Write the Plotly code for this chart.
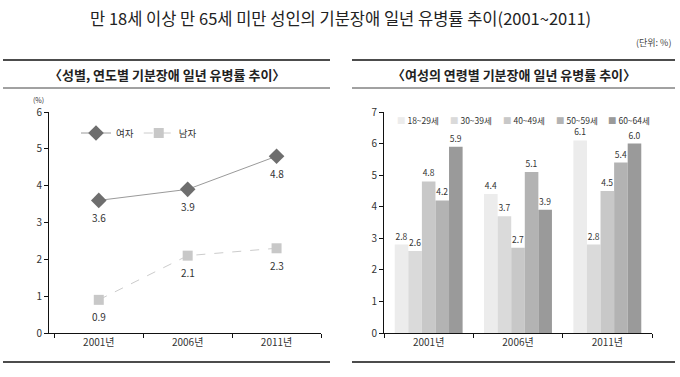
import plotly.graph_objects as go

W, H = 680, 377
FONT = "Noto Sans CJK KR"

title = "만 18세 이상 만 65세 미만 성인의 기분장애 일년 유병률 추이(2001~2011)"
unit_note = "(단위: %)"
left_title = "〈성별, 연도별 기분장애 일년 유병률 추이〉"
right_title = "〈여성의 연령별 기분장애 일년 유병률 추이〉"

years = ["2001년", "2006년", "2011년"]

# Left chart: by sex
female = [3.6, 3.9, 4.8]
male = [0.9, 2.1, 2.3]

# Right chart: women by age group
age_groups = ["18~29세", "30~39세", "40~49세", "50~59세", "60~64세"]
age_values = [
    [2.8, 4.4, 6.1],
    [2.6, 3.7, 2.8],
    [4.8, 2.7, 4.5],
    [4.2, 5.1, 5.4],
    [5.9, 3.9, 6.0],
]
age_colors = ["#ececec", "#dadada", "#c8c8c8", "#b3b3b3", "#9a9a9a"]
legend_x_px = [395, 448, 501, 554, 606]


def px_x(p):
    return p / W


def px_y(p):
    return 1 - p / H


fig = go.Figure()

fig.add_trace(go.Scatter(
    x=years, y=female, name="여자", mode="lines+markers",
    line=dict(color="#9a9a9a", width=1),
    marker=dict(symbol="diamond", size=12, color="#6e6e6e"),
    xaxis="x", yaxis="y", cliponaxis=False,
))
fig.add_trace(go.Scatter(
    x=years, y=male, name="남자", mode="lines+markers",
    line=dict(color="#cccccc", width=1, dash="dash"),
    marker=dict(symbol="square", size=10, color="#c8c8c8"),
    xaxis="x", yaxis="y", cliponaxis=False,
))

for name, vals, col in zip(age_groups, age_values, age_colors):
    fig.add_trace(go.Bar(
        x=years, y=vals, name=name, marker=dict(color=col, line=dict(width=0)),
        text=[f"{v:.1f}" for v in vals], textposition="outside",
        textfont=dict(size=8.5, color="#333333", family=FONT),
        xaxis="x2", yaxis="y2", showlegend=False, cliponaxis=False,
    ))

annotations = []
for series in (female, male):
    for yr, v in zip(years, series):
        annotations.append(dict(
            x=yr, y=v, xref="x", yref="y", text=f"{v:.1f}", showarrow=False,
            yshift=-17, font=dict(size=10, color="#333333", family=FONT),
        ))

# legend for the bar chart (swatch glyph + label)
for name, col, lx in zip(age_groups, age_colors, legend_x_px):
    annotations.append(dict(
        x=px_x(lx), y=px_y(120), xref="paper", yref="paper",
        text=f"<span style='color:{col}'>■</span> {name}",
        showarrow=False, xanchor="left", yanchor="middle",
        font=dict(size=8.5, color="#333333", family=FONT),
    ))

annotations += [
    dict(x=px_x(340), y=px_y(18), xref="paper", yref="paper", text=title,
         showarrow=False, font=dict(size=16.5, color="#222222", family=FONT),
         xanchor="center", yanchor="middle"),
    dict(x=px_x(673), y=px_y(43), xref="paper", yref="paper", text=unit_note,
         showarrow=False, font=dict(size=9, color="#444444", family=FONT),
         xanchor="right", yanchor="middle"),
    dict(x=px_x(167), y=px_y(75), xref="paper", yref="paper", text=f"<b>{left_title}</b>",
         showarrow=False, font=dict(size=13, color="#222222", family=FONT),
         xanchor="center", yanchor="middle"),
    dict(x=px_x(514), y=px_y(75), xref="paper", yref="paper", text=f"<b>{right_title}</b>",
         showarrow=False, font=dict(size=13, color="#222222", family=FONT),
         xanchor="center", yanchor="middle"),
    dict(x=px_x(38), y=px_y(100), xref="paper", yref="paper", text="(%)",
         showarrow=False, font=dict(size=7, color="#333333", family=FONT),
         xanchor="center", yanchor="middle"),
]

shapes = []
for x0, x1 in ((3, 330), (352, 675)):
    shapes.append(dict(type="line", xref="paper", yref="paper", x0=px_x(x0), x1=px_x(x1),
                       y0=px_y(60), y1=px_y(60), line=dict(color="#111111", width=1.6)))
    shapes.append(dict(type="line", xref="paper", yref="paper", x0=px_x(x0), x1=px_x(x1),
                       y0=px_y(88), y1=px_y(88), line=dict(color="#444444", width=1)))
    shapes.append(dict(type="line", xref="paper", yref="paper", x0=px_x(x0), x1=px_x(x1),
                       y0=px_y(362), y1=px_y(362), line=dict(color="#111111", width=1.6)))

ydom = [px_y(333), px_y(112)]
axis_common = dict(showgrid=False, zeroline=False, showline=True, linecolor="#111111",
                   linewidth=1, ticks="outside", ticklen=4, tickcolor="#111111",
                   automargin=False,
                   tickfont=dict(size=10, color="#333333", family=FONT))

fig.update_layout(
    width=W, height=H, margin=dict(l=0, r=0, t=0, b=0, pad=0, autoexpand=False),
    paper_bgcolor="white", plot_bgcolor="white",
    font=dict(family=FONT, color="#333333"),
    showlegend=True,
    barmode="group", bargap=0.24, bargroupgap=0,
    xaxis=dict(domain=[px_x(49), px_x(321)], range=[-0.56, 2.5], type="category",
               tickson="boundaries", anchor="y", **axis_common),
    yaxis=dict(domain=ydom, range=[0, 6], dtick=1, anchor="x", **axis_common),
    xaxis2=dict(domain=[px_x(384), px_x(652)], range=[-0.5, 2.5], type="category",
                tickson="boundaries", anchor="y2", **axis_common),
    yaxis2=dict(domain=ydom, range=[0, 7], dtick=1, anchor="x2", **axis_common),
    legend=dict(orientation="h", x=px_x(76), y=px_y(133), xanchor="left", yanchor="middle",
                font=dict(size=9.5, color="#333333", family=FONT), bgcolor="rgba(0,0,0,0)",
                itemwidth=30, tracegroupgap=0),
    annotations=annotations, shapes=shapes,
)

fig.write_html(
    "out.html",
    config={"displayModeBar": False},
    post_script="document.body.style.margin='0';document.body.style.overflow='hidden';",
)
